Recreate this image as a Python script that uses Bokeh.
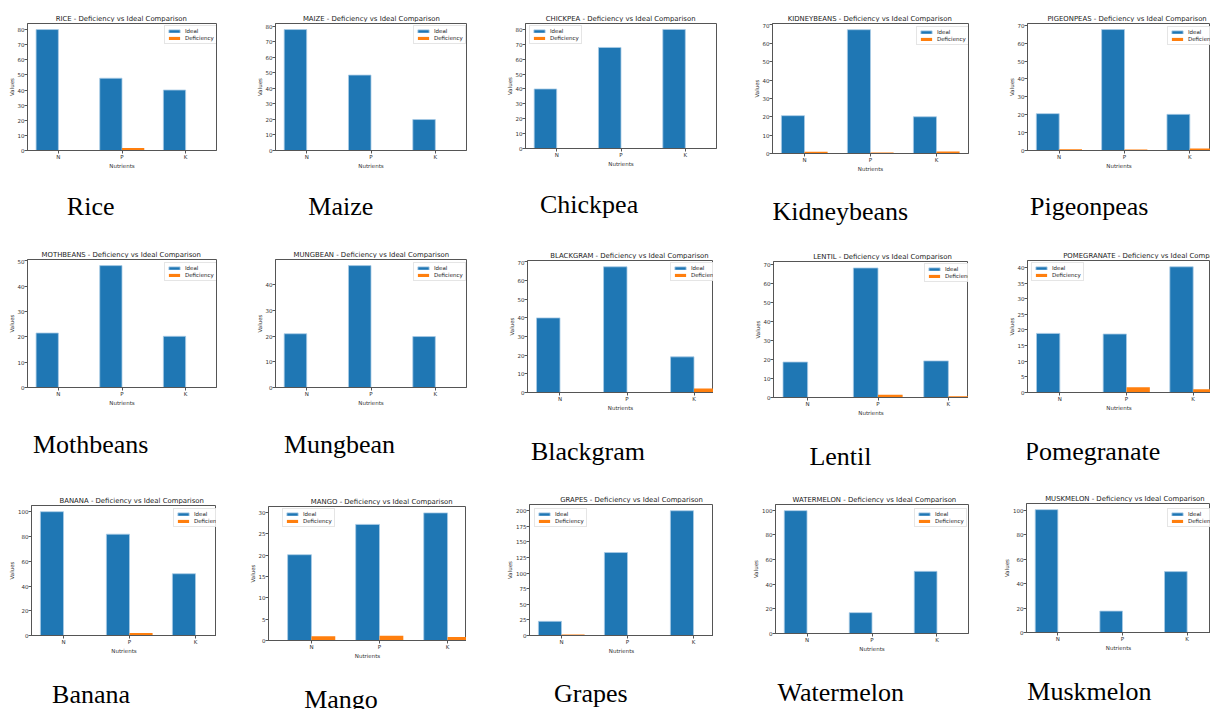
from bokeh.plotting import figure
from bokeh.layouts import column, row
from bokeh.models import Range1d, FixedTicker, SingleIntervalTicker, ColumnDataSource
from bokeh.transform import dodge
from bokeh.core.properties import value
from bokeh.embed import file_html
from bokeh.resources import INLINE

# ---------------- data ----------------
NUTRIENTS = ["N", "P", "K"]
SERIES = ["Ideal", "Deficiency"]

RICE_IDEAL = [80.0, 47.8, 40.0]
RICE_DEF = [0.0, 1.6, 0.0]
MAIZE_IDEAL = [77.8, 48.5, 19.9]
MAIZE_DEF = [0.0, 0.4, 0.0]
CHICKPEA_IDEAL = [40.0, 67.9, 80.0]
CHICKPEA_DEF = [0.0, 0.0, 0.0]
KIDNEYBEANS_IDEAL = [20.6, 67.4, 20.0]
KIDNEYBEANS_DEF = [0.9, 0.5, 1.1]
PIGEONPEAS_IDEAL = [20.6, 67.6, 20.2]
PIGEONPEAS_DEF = [0.7, 0.6, 1.1]
MOTHBEANS_IDEAL = [21.5, 48.1, 20.2]
MOTHBEANS_DEF = [0.0, 0.0, 0.0]
MUNGBEAN_IDEAL = [20.9, 47.4, 19.8]
MUNGBEAN_DEF = [0.0, 0.0, 0.0]
BLACKGRAM_IDEAL = [40.0, 67.4, 19.1]
BLACKGRAM_DEF = [0.0, 0.0, 2.2]
LENTIL_IDEAL = [18.7, 68.3, 19.3]
LENTIL_DEF = [0.0, 1.5, 0.6]
POMEGRANATE_IDEAL = [18.9, 18.7, 40.2]
POMEGRANATE_DEF = [0.0, 1.7, 1.0]
BANANA_IDEAL = [100.2, 82.0, 50.0]
BANANA_DEF = [0.0, 2.1, 0.0]
MANGO_IDEAL = [20.1, 27.2, 29.9]
MANGO_DEF = [1.0, 1.1, 0.8]
GRAPES_IDEAL = [22.7, 133.0, 200.0]
GRAPES_DEF = [1.6, 0.0, 0.0]
WATERMELON_IDEAL = [99.6, 16.9, 50.4]
WATERMELON_DEF = [0.0, 0.0, 0.0]
MUSKMELON_IDEAL = [100.5, 17.5, 49.8]
MUSKMELON_DEF = [0.5, 0.0, 0.0]

CROPS = ["Rice", "Maize", "Chickpea", "Kidneybeans", "Pigeonpeas",
         "Mothbeans", "Mungbean", "Blackgram", "Lentil", "Pomegranate",
         "Banana", "Mango", "Grapes", "Watermelon", "Muskmelon"]
IDEALS = [RICE_IDEAL, MAIZE_IDEAL, CHICKPEA_IDEAL, KIDNEYBEANS_IDEAL, PIGEONPEAS_IDEAL,
          MOTHBEANS_IDEAL, MUNGBEAN_IDEAL, BLACKGRAM_IDEAL, LENTIL_IDEAL, POMEGRANATE_IDEAL,
          BANANA_IDEAL, MANGO_IDEAL, GRAPES_IDEAL, WATERMELON_IDEAL, MUSKMELON_IDEAL]
DEFICITS = [RICE_DEF, MAIZE_DEF, CHICKPEA_DEF, KIDNEYBEANS_DEF, PIGEONPEAS_DEF,
            MOTHBEANS_DEF, MUNGBEAN_DEF, BLACKGRAM_DEF, LENTIL_DEF, POMEGRANATE_DEF,
            BANANA_DEF, MANGO_DEF, GRAPES_DEF, WATERMELON_DEF, MUSKMELON_DEF]

# ---------------- layout (screen px) ----------------
ROW_Y = [(0, 240), (240, 478), (478, 709)]
# row, cell x0, cell x1, frame left, full frame right, frame top, frame bottom,
# x margin, caption x, caption baseline, legend left, legend top, y tick step
LAYOUT = [
    (0, 0, 245, 27, 216, 23, 150, 0.485, 67, 215, 164, 26, 10),
    (0, 245, 495, 275, 466, 23, 150, 0.485, 308, 215, 413, 26, 10),
    (0, 495, 745, 525, 716, 23, 148, 0.485, 539, 213, 529, 26, 10),
    (0, 745, 995, 772, 968, 23, 153, 0.485, 772, 220, 916, 27, 10),
    (0, 995, 1210, 1027, 1221, 23, 150, 0.485, 1030, 215, 1167, 27, 10),
    (1, 0, 245, 27, 216, 259, 387, 0.485, 32, 453, 164, 263, 10),
    (1, 245, 495, 275, 466, 259, 387, 0.485, 283, 453, 413, 263, 10),
    (1, 495, 713, 527, 726, 260, 392, 0.485, 531, 460, 670, 263, 10),
    (1, 713, 968, 773, 982, 261, 397, 0.485, 808, 465, 924, 264, 10),
    (1, 968, 1210, 1027, 1225, 260, 392, 0.485, 1022, 460, 1031, 263, 5),
    (2, 0, 216, 31, 227, 505, 635, 0.485, 52, 703, 173, 509, 20),
    (2, 216, 466, 268, 490, 506, 640, 0.631, 303, 708, 282, 509, 5),
    (2, 466, 713, 529, 725, 504, 635, 0.485, 552, 702, 534, 509, 25),
    (2, 713, 995, 775, 968, 504, 633, 0.485, 776, 701, 914, 509, 20),
    (2, 995, 1210, 1026, 1218, 503, 632, 0.485, 1027, 700, 1167, 509, 20),
]
# empirical text nudges (px): caption x, title x
CAPTION_NUDGE = [16, 20, 25, 27, 32, 25, 27, 32, 48, 58, 28, 42, 53, 60, 31]
TITLE_NUDGE = [0, 0, 1, 1, 12, 0, 0, 12, 22, 0, 12, 20, 24, 14, 12]
CAPTION_DROP = 9

BLUE = "#1f77b4"
ORANGE = "#ff7f0e"
SANS = "DejaVu Sans"
SERIF = "Liberation Serif"
BAR_W = 0.35
LEGEND_H = 18
TOP_PAD = 1       # chart figure border above its frame
AXIS_SPACE = 24   # chart figure border below its frame


def text_strip(width, height, x, y, text, font, size, align, color):
    """A bare figure whose frame is the whole strip, in pixel units (y down)."""
    s = figure(width=width, height=height, x_range=Range1d(0, width), y_range=Range1d(height, 0),
               x_axis_type=None, y_axis_type=None, output_backend="svg", toolbar_location=None,
               min_border_left=0, min_border_right=0, min_border_top=0, min_border_bottom=0)
    s.outline_line_color = None
    s.background_fill_color = "white"
    s.border_fill_color = "white"
    s.text(x=[x], y=[y], text=[text], text_align=align, text_baseline="alphabetic",
           text_font=value(font), text_font_size=size, text_color=color)
    return s


def make_cell(idx, name, ideal, deficit, spec):
    r, cx0, cx1, fl, fr, ft, fb, m, capx, capy, lgx, lgy, ystep = spec
    ry0, ry1 = ROW_Y[r]
    w = cx1 - cx0
    ppu = (fr - fl) / (2 + 2 * m)
    vis_r = min(fr, cx1)
    x_start = -m
    x_end = -m + (vis_r - fl) / ppu
    ymax = 1.05 * max(ideal + deficit)

    chart_top = ft - TOP_PAD
    chart_bottom = fb + AXIS_SPACE

    # ---- title strip ----
    p_px = fl + (1 + m) * ppu - cx0 - TITLE_NUDGE[idx]
    title = text_strip(w, chart_top - ry0, p_px, ft - 4.5 - ry0,
                       f"{name.upper()} - Deficiency vs Ideal Comparison",
                       SANS, "6.9px", "center", "#222222")

    # ---- chart ----
    p = figure(width=w, height=chart_bottom - chart_top,
               x_range=Range1d(x_start, x_end), y_range=Range1d(0, ymax),
               output_backend="svg", toolbar_location=None,
               min_border_left=fl - cx0, min_border_right=cx1 - vis_r,
               min_border_top=TOP_PAD, min_border_bottom=AXIS_SPACE)
    p.background_fill_color = "white"
    p.border_fill_color = "white"
    p.outline_line_color = "#555555"
    p.outline_line_width = 1
    p.xgrid.visible = False
    p.ygrid.visible = False

    src = ColumnDataSource(dict(x=list(range(len(NUTRIENTS))), ideal=ideal, deficit=deficit))
    p.vbar(x=dodge("x", -BAR_W / 2), top="ideal", width=BAR_W, source=src,
           fill_color=BLUE, line_color="#a9cbe6", line_width=0.8, legend_label=SERIES[0])
    p.vbar(x=dodge("x", BAR_W / 2), top="deficit", width=BAR_W, source=src,
           fill_color=ORANGE, line_color=None, legend_label=SERIES[1])

    p.xaxis.ticker = FixedTicker(ticks=list(range(len(NUTRIENTS))))
    p.xaxis.major_label_overrides = {i: n for i, n in enumerate(NUTRIENTS)}
    p.yaxis.ticker = SingleIntervalTicker(interval=ystep, num_minor_ticks=0)
    p.xaxis.axis_label = "Nutrients"
    p.yaxis.axis_label = "Values"
    for ax in (p.xaxis, p.yaxis):
        ax.axis_line_color = "#555555"
        ax.major_tick_line_color = "#555555"
        ax.minor_tick_line_color = None
        ax.major_tick_out = 3
        ax.major_tick_in = 0
        ax.major_label_text_font = SANS
        ax.major_label_text_font_size = "5.5px"
        ax.major_label_text_color = "#333333"
        ax.major_label_standoff = 0
        ax.axis_label_text_font = SANS
        ax.axis_label_text_font_size = "5.5px"
        ax.axis_label_text_font_style = "normal"
        ax.axis_label_text_color = "#333333"
        ax.axis_label_standoff = 0

    lg = p.legend[0]
    lg.location = (lgx - fl, fb - lgy - LEGEND_H)
    lg.label_text_font = SANS
    lg.label_text_font_size = "5.5px"
    lg.label_text_color = "#222222"
    lg.glyph_width = 14
    lg.glyph_height = 4
    lg.label_height = 6
    lg.label_standoff = 4
    lg.padding = 2
    lg.spacing = 1
    lg.margin = 0
    lg.border_line_color = "#cccccc"
    lg.border_line_width = 1
    lg.background_fill_alpha = 0.85

    # ---- caption strip ----
    caption = text_strip(w, ry1 - chart_bottom, capx - cx0 - CAPTION_NUDGE[idx],
                         capy - chart_bottom - CAPTION_DROP,
                         name, SERIF, "26px", "left", "black")

    return column(title, p, caption, spacing=0)


cells = [make_cell(k, n, i, d, s) for k, (n, i, d, s) in enumerate(zip(CROPS, IDEALS, DEFICITS, LAYOUT))]
rows = [row(*cells[k * 5:(k + 1) * 5], spacing=0) for k in range(3)]
layout = column(*rows, spacing=0)

open("out.html", "w").write(file_html(layout, INLINE))
